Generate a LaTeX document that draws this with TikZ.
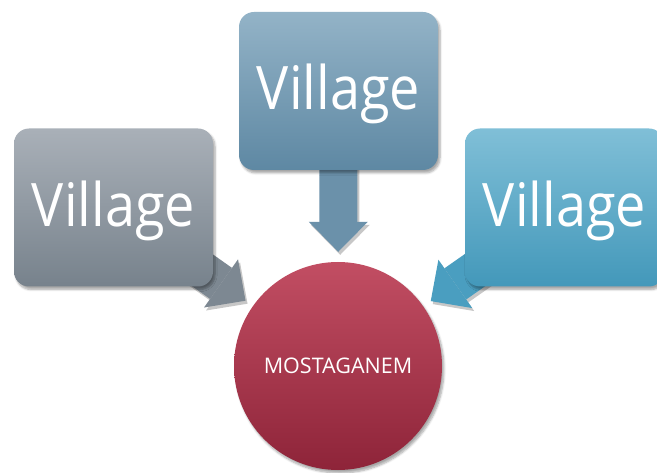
\documentclass[tikz,border=0pt]{standalone}
\usepackage{fontspec}
\setmainfont{Open Sans}
\newfontfamily\villfont[FakeStretch=0.9]{Open Sans}
\usetikzlibrary{arrows.meta,shadows.blur}
\pgfdeclarelayer{bg}
\pgfsetlayers{bg,main}
\definecolor{grayT}{HTML}{A9B0B8}
\definecolor{grayB}{HTML}{77828C}
\definecolor{steelT}{HTML}{93B3C7}
\definecolor{steelB}{HTML}{5E88A3}
\definecolor{skyT}{HTML}{80BFD7}
\definecolor{skyB}{HTML}{4398BA}
\definecolor{redT}{HTML}{C24E63}
\definecolor{redB}{HTML}{8E2439}
\definecolor{grayA}{HTML}{7D8892}
\definecolor{steelA}{HTML}{6B91AA}
\definecolor{skyA}{HTML}{4A9EC0}
\tikzset{
  villagebox/.style={rectangle, rounded corners=15pt, minimum width=199pt,
    minimum height=158pt, inner sep=0pt, text=white,
    font=\villfont\fontsize{60}{64}\selectfont, text height=38pt, text depth=0pt,
    blur shadow={shadow xshift=2pt, shadow yshift=-3pt, shadow blur steps=6, shadow opacity=35}},
  cityball/.style={circle, minimum size=208pt, inner sep=0pt, text=white,
    top color=redT, bottom color=redB, font=\fontsize{21.5}{24}\selectfont,
    blur shadow={shadow xshift=2pt, shadow yshift=-3pt, shadow blur steps=6, shadow opacity=35}},
  blockarrow/.style={line width=38pt,
    -{Triangle[length=30pt, width=59pt, line width=0pt]}},
  arrowshade/.style={blockarrow, black, transform canvas={xshift=2pt, yshift=-3pt}}
}
\begin{document}
\begin{tikzpicture}[x=1pt,y=1pt]
\useasboundingbox (0,0) rectangle (657,472);
\node[villagebox, top color=grayT, bottom color=grayB] (left) at (113.5,264.5) {Village};
\node[villagebox, top color=steelT, bottom color=steelB] (top) at (338.5,381) {Village};
\node[villagebox, top color=skyT, bottom color=skyB] (right) at (564.5,264.5) {Village};
\node[cityball] (circ) at (338,106) {MOSTAGANEM};
\begin{pgfonlayer}{bg}
\begin{scope}[transparency group, opacity=0.22]
\draw[arrowshade, shorten >=9pt] (left.center) -- (circ);
\draw[arrowshade, shorten >=10pt] (top.center) -- (circ);
\draw[arrowshade, shorten >=9pt] (right.center) -- (circ);
\end{scope}
\draw[blockarrow, grayA, shorten >=9pt] (left.center) -- (circ);
\draw[blockarrow, steelA, shorten >=10pt] (top.center) -- (circ);
\draw[blockarrow, skyA, shorten >=9pt] (right.center) -- (circ);
\end{pgfonlayer}
\end{tikzpicture}
\end{document}
